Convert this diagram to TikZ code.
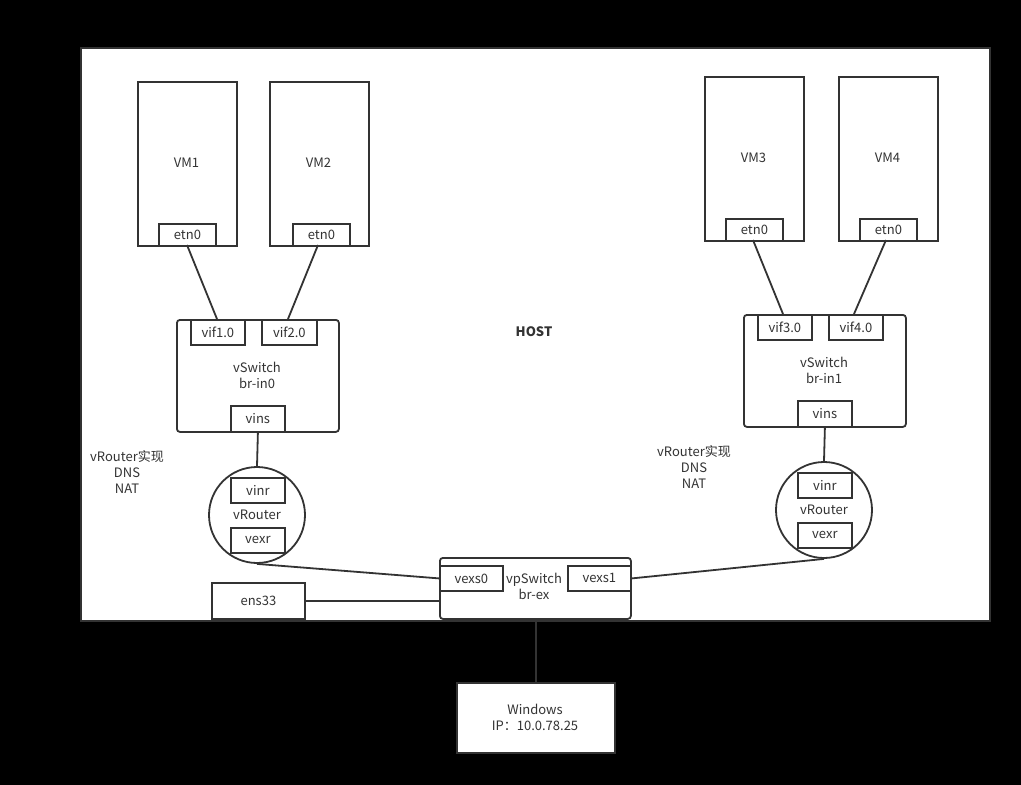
\documentclass[tikz,border=0pt]{standalone}
\usepackage{fontspec}
\setmainfont{Noto Sans CJK SC}
\begin{document}
\begin{tikzpicture}[x=1pt,y=-1pt,
  every node/.style={font=\fontsize{13}{16}\selectfont, text=black!80},
  ln/.style={draw=black!80, line width=1.8pt},
  box/.style={draw=black!80, line width=1.8pt, fill=white, anchor=north west, inner sep=0pt},
  lbl/.style={align=center, inner sep=0pt}]
\useasboundingbox (0,0) rectangle (1021,785);
\fill[black] (0,0) rectangle (1021,785);
% host
\node[box, minimum width=909pt, minimum height=573pt] (host) at (80,47) {};
\node[lbl, font=\fontsize{13}{16}\selectfont\bfseries] (hostl) at (534,332) {HOST};
% VMs
\node[box, minimum width=99pt, minimum height=164pt] (vm1) at (137,81) {};
\node[lbl] (vm1l) at (186.5,163) {VM1};
\node[box, minimum width=57pt, minimum height=22pt] (e1) at (158,223) {};
\node[lbl] at (e1.center) {etn0};
\node[box, minimum width=99pt, minimum height=164pt] (vm2) at (269,81) {};
\node[lbl] (vm2l) at (318.5,163) {VM2};
\node[box, minimum width=57pt, minimum height=22pt] (e2) at (292,223) {};
\node[lbl] at (e2.center) {etn0};
\node[box, minimum width=99pt, minimum height=164pt] (vm3) at (704,76) {};
\node[lbl] (vm3l) at (753.5,158) {VM3};
\node[box, minimum width=57pt, minimum height=22pt] (e3) at (725,218) {};
\node[lbl] at (e3.center) {etn0};
\node[box, minimum width=99pt, minimum height=164pt] (vm4) at (838,76) {};
\node[lbl] (vm4l) at (887.5,158) {VM4};
\node[box, minimum width=57pt, minimum height=22pt] (e4) at (859,218) {};
\node[lbl] at (e4.center) {etn0};
% vSwitch br-in0
\node[box, rounded corners=3pt, minimum width=162pt, minimum height=112pt] (sw0) at (176,319) {};
\node[lbl] (sw0l) at (257,375) {vSwitch\\br-in0};
\node[box, minimum width=54pt, minimum height=25pt] (vif1) at (190,319) {};
\node[lbl] at (vif1.center) {vif1.0};
\node[box, minimum width=55pt, minimum height=25pt] (vif2) at (261,319) {};
\node[lbl] at (vif2.center) {vif2.0};
\node[box, minimum width=54pt, minimum height=26pt] (vins0) at (230,405) {};
\node[lbl] at (vins0.center) {vins};
% vSwitch br-in1
\node[box, rounded corners=3pt, minimum width=162pt, minimum height=112pt] (sw1) at (743,314) {};
\node[lbl] (sw1l) at (824,370) {vSwitch\\br-in1};
\node[box, minimum width=54pt, minimum height=25pt] (vif3) at (757,314) {};
\node[lbl] at (vif3.center) {vif3.0};
\node[box, minimum width=54pt, minimum height=25pt] (vif4) at (828,314) {};
\node[lbl] at (vif4.center) {vif4.0};
\node[box, minimum width=54pt, minimum height=26pt] (vins1) at (797,400) {};
\node[lbl] at (vins1.center) {vins};
% VM links
\draw[ln] (187,245) -- (217,319);
\draw[ln] (318,245) -- (288,319);
\draw[ln] (753,240) -- (783,314);
\draw[ln] (886,240) -- (854,314);
% vRouters
\node[draw=black!80, line width=1.8pt, fill=white, circle, minimum size=96pt, inner sep=0pt] (r0) at (257,515) {};
\node[box, minimum width=54pt, minimum height=25pt] (vinr0) at (230,477) {};
\node[lbl] at (vinr0.center) {vinr};
\node[lbl] (r0l) at (257,515) {vRouter};
\node[box, minimum width=54pt, minimum height=25pt] (vexr0) at (230,527) {};
\node[lbl] at (vexr0.center) {vexr};
\node[draw=black!80, line width=1.8pt, fill=white, circle, minimum size=96pt, inner sep=0pt] (r1) at (824,510) {};
\node[box, minimum width=54pt, minimum height=25pt] (vinr1) at (797,472) {};
\node[lbl] at (vinr1.center) {vinr};
\node[lbl] (r1l) at (824,510) {vRouter};
\node[box, minimum width=54pt, minimum height=25pt] (vexr1) at (797,522) {};
\node[lbl] at (vexr1.center) {vexr};
\draw[ln] (vins0.south) -- (r0.north);
\draw[ln] (vins1.south) -- (r1.north);
% notes
\node[lbl] (n0) at (127,472) {vRouter实现\\DNS\\NAT};
\node[lbl] (n1) at (694,467) {vRouter实现\\DNS\\NAT};
% vpSwitch
\node[box, rounded corners=3pt, minimum width=191pt, minimum height=61pt] (vp) at (439,557) {};
\node[lbl] (vpl) at (534,586) {vpSwitch\\br-ex};
\node[box, minimum width=63pt, minimum height=25pt] (vx0) at (439,565) {};
\node[lbl] at (vx0.center) {vexs0};
\node[box, minimum width=63pt, minimum height=25pt] (vx1) at (567,565) {};
\node[lbl] at (vx1.center) {vexs1};
\node[box, minimum width=93pt, minimum height=36pt] (ens) at (211,582) {};
\node[lbl] at (ens.center) {ens33};
\draw[ln] (r0.south) -- (vx0.west);
\draw[ln] (r1.south) -- (vx1.east);
\draw[ln] (ens.east) -- (vp.west |- 0,601);
% Windows
\node[box, minimum width=158pt, minimum height=70pt] (win) at (456,682) {};
\node[lbl] (winl) at (535,717) {Windows\\IP：10.0.78.25};
\draw[ln] (536,619) -- (win.north -| 536,0);
\end{tikzpicture}
\end{document}
